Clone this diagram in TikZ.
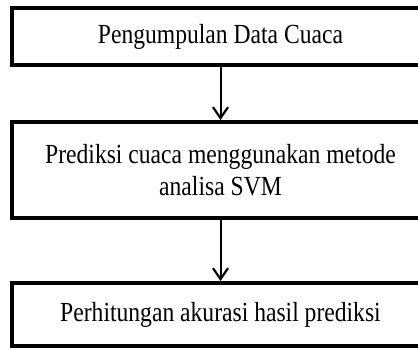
\documentclass[tikz,border=0pt]{standalone}
\usepackage{fontspec}
\setmainfont{Liberation Serif}
\usetikzlibrary{arrows.meta}
\begin{document}
\begin{tikzpicture}[x=1pt,y=-1pt,
  stepbox/.style={draw=black,line width=3.8pt,fill=white,rectangle,
    minimum width=417pt,inner sep=0pt,align=center,
    font=\fontsize{23.6}{31}\selectfont},
  flow/.style={line width=2pt,-{Straight Barb[length=11pt,width=15pt,line width=2.2pt]}}]
\useasboundingbox[clip] (0,0) rectangle (418,349);
\fill[white] (0,0) rectangle (418,349);
\node[stepbox,minimum height=57pt] (s1) at (220.5,36.5)
  {\scalebox{1}[1.17]{Pengumpulan Data Cuaca}};
\node[stepbox,minimum height=96pt] (s2) at (220.5,170)
  {\scalebox{1}[1.17]{Prediksi cuaca menggunakan metode}\\[1pt]\scalebox{1}[1.17]{analisa SVM}};
\node[stepbox,minimum height=63pt] (s3) at (220.5,314.5)
  {\raisebox{4pt}{\scalebox{1}[1.17]{Perhitungan akurasi hasil prediksi}}};
\draw[flow] (s1.south) -- (s2.north);
\draw[flow] (s2.south) -- (s3.north);
\end{tikzpicture}
\end{document}
